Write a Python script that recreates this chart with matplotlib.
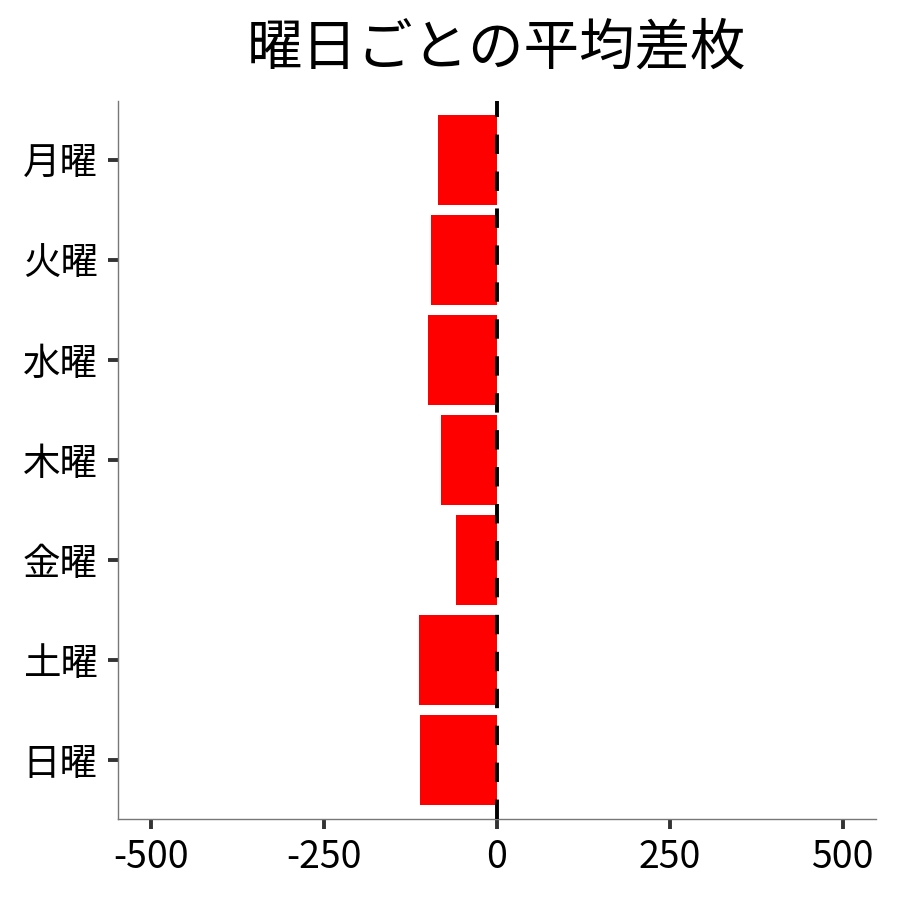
import matplotlib
matplotlib.use("Agg")
import matplotlib.pyplot as plt
import numpy as np

plt.rcParams["font.family"] = ["Noto Sans CJK JP", "DejaVu Sans"]

days = ["月曜", "火曜", "水曜", "木曜", "金曜", "土曜", "日曜"]
avg_diff = [-85, -95, -100, -81, -59, -113, -111]
xticks = [-500, -250, 0, 250, 500]

fig = plt.figure(figsize=(9, 9), dpi=100)
ax = fig.add_axes([0.131, 0.09, 0.842, 0.798])

y = np.arange(len(days))[::-1]
ax.barh(y, avg_diff, height=0.9, color="#ff0000", zorder=2)
ax.axvline(0, color="black", lw=2.8, linestyle=(0, (5, 4.5)), zorder=3)

ax.set_xlim(-548, 548)
ax.set_ylim(-0.59, len(days) - 1 + 0.59)
ax.set_yticks(y)
ax.set_yticklabels(days)
ax.set_xticks(xticks)
ax.set_xticklabels([str(v) for v in xticks])

for s in ["top", "right"]:
    ax.spines[s].set_visible(False)
for s in ["left", "bottom"]:
    ax.spines[s].set_color("#777777")
    ax.spines[s].set_linewidth(1.0)

ax.tick_params(axis="both", labelsize=27, colors="#333333", width=2.8, length=7.5, labelcolor="black")
ax.tick_params(axis="y", pad=7)
ax.tick_params(axis="x", pad=6)

ax.set_title("曜日ごとの平均差枚", fontsize=40, pad=26)

fig.savefig("out.png", dpi=100)
